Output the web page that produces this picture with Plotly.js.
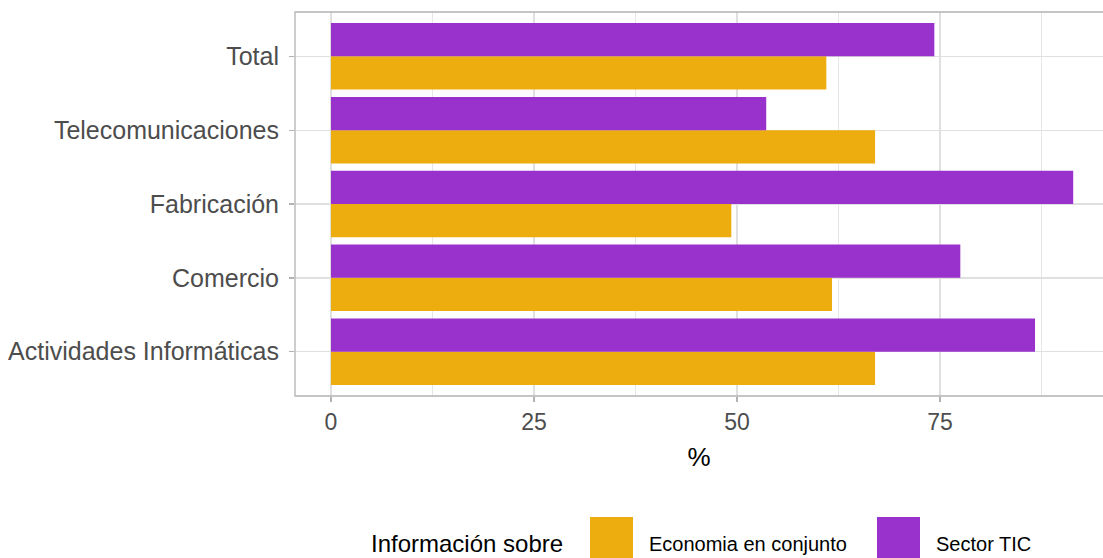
<!DOCTYPE html>
<html>
<head>
<meta charset="utf-8">
<script src="https://cdn.plot.ly/plotly-3.0.1.min.js"></script>
<style>
  html, body { margin: 0; padding: 0; background: #fff; }
  #chart { width: 1103px; height: 558px; }
</style>
</head>
<body>
<div id="chart"></div>
<script>
// categories, bottom to top
const categories = ['Actividades Informáticas', 'Comercio', 'Fabricación', 'Telecomunicaciones', 'Total'];
const seriesNames = ['Economia en conjunto', 'Sector TIC'];
const economia = [67.0, 61.7, 49.3, 67.0, 61.0];
const sectorTic = [86.7, 77.5, 91.4, 53.6, 74.3];
const xTicks = [0, 25, 50, 75];
const colors = ['#EEAD0E', '#9932CC'];

const grey70 = '#B3B3B3';
const grey87 = '#E0E0E0';
const textGrey = '#4D4D4D';
const sans = '"Liberation Sans", Arial, sans-serif';

const traces = [economia, sectorTic].map((vals, i) => ({
    type: 'bar',
    orientation: 'h',
    name: seriesNames[i],
    y: categories,
    x: vals,
    marker: { color: colors[i], line: { width: 0 } },
    hoverinfo: 'x+y+name'
}));

// legend built by hand, ggplot style (big square keys)
const px = v => (v - 295) / 808;
const py = v => (396 - v) / 384;
const keyX = [590, 877];
const shapes = [
    // panel border (right edge falls outside the picture)
    { type: 'rect', xref: 'paper', yref: 'paper', x0: 0, x1: 1.02, y0: 0, y1: 1,
      line: { color: grey70, width: 1.3 }, fillcolor: 'rgba(0,0,0,0)', layer: 'above' }
];
const annotations = [
    { xref: 'paper', yref: 'paper', x: px(369), y: py(543), xanchor: 'left', yanchor: 'middle',
      text: 'Información sobre', showarrow: false, font: { family: sans, size: 24, color: '#000' } }
];
seriesNames.forEach((name, i) => {
    shapes.push({ type: 'rect', xref: 'paper', yref: 'paper',
        x0: px(keyX[i]), x1: px(keyX[i] + 43), y0: py(560), y1: py(517),
        fillcolor: colors[i], line: { width: 0 } });
    annotations.push({ xref: 'paper', yref: 'paper', x: px(keyX[i] + 57), y: py(544),
        xanchor: 'left', yanchor: 'middle', text: name, showarrow: false,
        font: { family: sans, size: 20, color: '#000' } });
});

const layout = {
    width: 1103,
    height: 558,
    margin: { l: 295, r: 0, t: 12, b: 162 },
    paper_bgcolor: '#fff',
    plot_bgcolor: '#fff',
    barmode: 'group',
    bargap: 0.1,
    bargroupgap: 0,
    showlegend: false,
    xaxis: {
        range: [-4.43, 95.07],
        tickvals: xTicks,
        ticktext: xTicks.map(String),
        ticks: 'outside',
        ticklen: 5,
        tickwidth: 1.3,
        tickcolor: grey70,
        showgrid: true,
        gridcolor: grey87,
        gridwidth: 1.3,
        zeroline: false,
        showline: false,
        minor: { tickvals: [12.5, 37.5, 62.5, 87.5], showgrid: true, gridcolor: grey87, gridwidth: 0.8, ticks: '' },
        tickfont: { family: sans, size: 23, color: textGrey },
        title: { text: '%', font: { family: sans, size: 26, color: '#000' }, standoff: 14 }
    },
    yaxis: {
        type: 'category',
        categoryorder: 'array',
        categoryarray: categories,
        range: [-0.6, 4.6],
        ticks: 'outside',
        ticklen: 5,
        tickwidth: 1.3,
        tickcolor: grey70,
        ticklabelstandoff: 5,
        showgrid: true,
        gridcolor: grey87,
        gridwidth: 1.3,
        zeroline: false,
        showline: false,
        tickfont: { family: sans, size: 25, color: textGrey }
    },
    shapes: shapes,
    annotations: annotations
};

Plotly.newPlot('chart', traces, layout, { displayModeBar: false, staticPlot: true });
</script>
</body>
</html>
